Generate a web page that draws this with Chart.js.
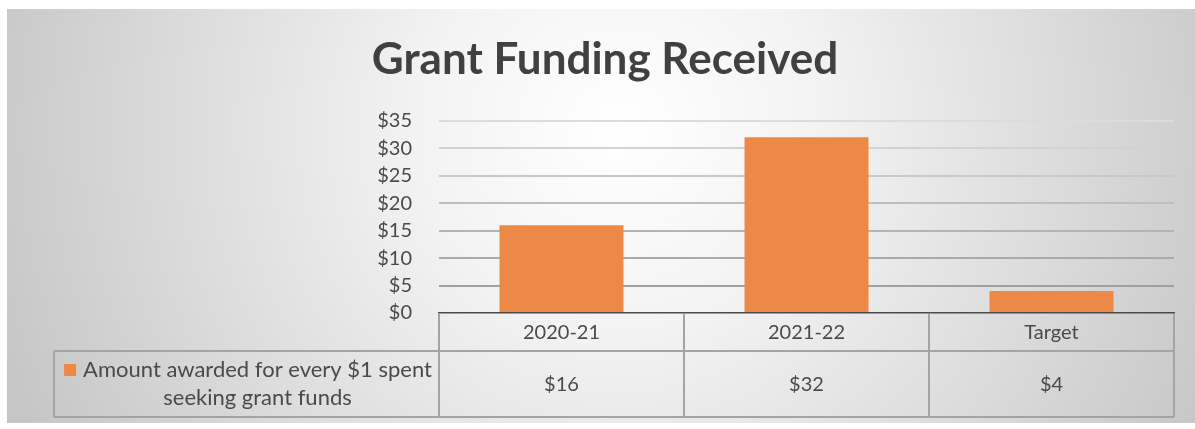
<!DOCTYPE html>
<html>
<head>
<meta charset="utf-8">
<script src="https://cdn.jsdelivr.net/npm/chart.js@4.4.0/dist/chart.umd.min.js"></script>
<style>
  html, body { margin: 0; padding: 0; background: #fff; }
  #wrap { width: 1195px; height: 429px; }
</style>
</head>
<body>
<div id="wrap"><canvas id="grantChart"></canvas></div>
<script>
const categories = ["2020-21", "2021-22", "Target"];
const awarded = [16, 32, 4];
const seriesLabel = ["Amount awarded for every $1 spent", "seeking grant funds"];
const yMin = 0;
const yMax = 35;
const yStep = 5;

const textColor = "#4a4a4a";
const barColor = "#ec8946";

// grey radial background like the office theme
const backdrop = {
  id: "backdrop",
  beforeDraw(chart) {
    const ctx = chart.ctx;
    ctx.save();
    ctx.fillStyle = "#fff";
    ctx.fillRect(0, 0, chart.width, chart.height);
    const g = ctx.createRadialGradient(620, 130, 0, 620, 130, 660);
    g.addColorStop(0, "#ffffff");
    g.addColorStop(0.3, "#f3f3f3");
    g.addColorStop(1, "#c6c6c6");
    ctx.fillStyle = g;
    ctx.fillRect(7, 9, chart.width - 7, 414);
    ctx.restore();
  }
};

// data table under the plot
const dataTable = {
  id: "dataTable",
  afterDraw(chart) {
    const ctx = chart.ctx;
    const x = chart.scales.x;
    const area = chart.chartArea;
    const colW = x.width / categories.length;
    const top = area.bottom;
    const mid = top + 38;
    const bot = top + 104;
    const left = 54;

    ctx.save();
    ctx.strokeStyle = "#a4a4a4";
    ctx.lineWidth = 2;
    ctx.beginPath();
    ctx.moveTo(left, mid); ctx.lineTo(area.right, mid);
    ctx.moveTo(left, bot); ctx.lineTo(area.right, bot);
    ctx.moveTo(left, mid); ctx.lineTo(left, bot);
    for (let i = 0; i <= categories.length; i++) {
      const px = Math.round(x.getPixelForTick(Math.min(i, categories.length - 1)) + (i < categories.length ? -colW / 2 : colW / 2));
      ctx.moveTo(px, top + 1); ctx.lineTo(px, bot);
    }
    ctx.stroke();

    ctx.fillStyle = textColor;
    ctx.font = "20px Lato";
    ctx.textAlign = "center";
    ctx.textBaseline = "middle";
    categories.forEach((c, i) => {
      const cx = x.getPixelForTick(i);
      ctx.fillText(c, cx, top + 20);
      ctx.fillText("$" + awarded[i], cx, mid + 34);
    });

    // legend key + wrapped series name
    ctx.font = "22px Lato";
    const cellMid = (left + area.left) / 2 + 11;
    ctx.fillText(seriesLabel[0], cellMid, mid + 19);
    ctx.fillText(seriesLabel[1], cellMid, mid + 47);
    const w0 = ctx.measureText(seriesLabel[0]).width;
    ctx.fillStyle = barColor;
    ctx.fillRect(cellMid - w0 / 2 - 19, mid + 13, 12, 12);
    ctx.restore();
  }
};

new Chart("grantChart", {
  type: "bar",
  data: {
    labels: categories,
    datasets: [{
      label: seriesLabel.join(" "),
      data: awarded,
      backgroundColor: barColor,
      borderWidth: 0,
      categoryPercentage: 1,
      barPercentage: 0.506
    }]
  },
  options: {
    responsive: true,
    maintainAspectRatio: false,
    animation: false,
    layout: {
      padding: { top: 9, right: 21, bottom: 116, left: 36 }
    },
    plugins: {
      legend: { display: false },
      tooltip: { enabled: false },
      title: {
        display: true,
        text: "Grant Funding Received",
        color: "#404040",
        font: { family: "Lato", size: 44, weight: "bold" },
        padding: { top: 24, bottom: 35 }
      }
    },
    scales: {
      x: {
        grid: { display: false },
        ticks: { display: false },
        border: { display: true, color: "#4a4a4a", width: 1.5 },
        afterFit(scale) { scale.height = 0; }
      },
      y: {
        min: yMin,
        max: yMax,
        ticks: {
          stepSize: yStep,
          padding: 27,
          color: textColor,
          font: { family: "Lato", size: 20 },
          callback: (v) => "$" + v
        },
        grid: {
          drawTicks: false,
          lineWidth: 2,
          color: (c) => {
            if (c.tick.value === 0) return "rgba(0,0,0,0)";
            const shade = 150 + Math.round(c.tick.value * 2);
            return `rgb(${shade},${shade},${shade})`;
          }
        },
        border: { display: false },
        afterFit(scale) { scale.width = 403; }
      }
    }
  },
  plugins: [backdrop, dataTable]
});
</script>
</body>
</html>
